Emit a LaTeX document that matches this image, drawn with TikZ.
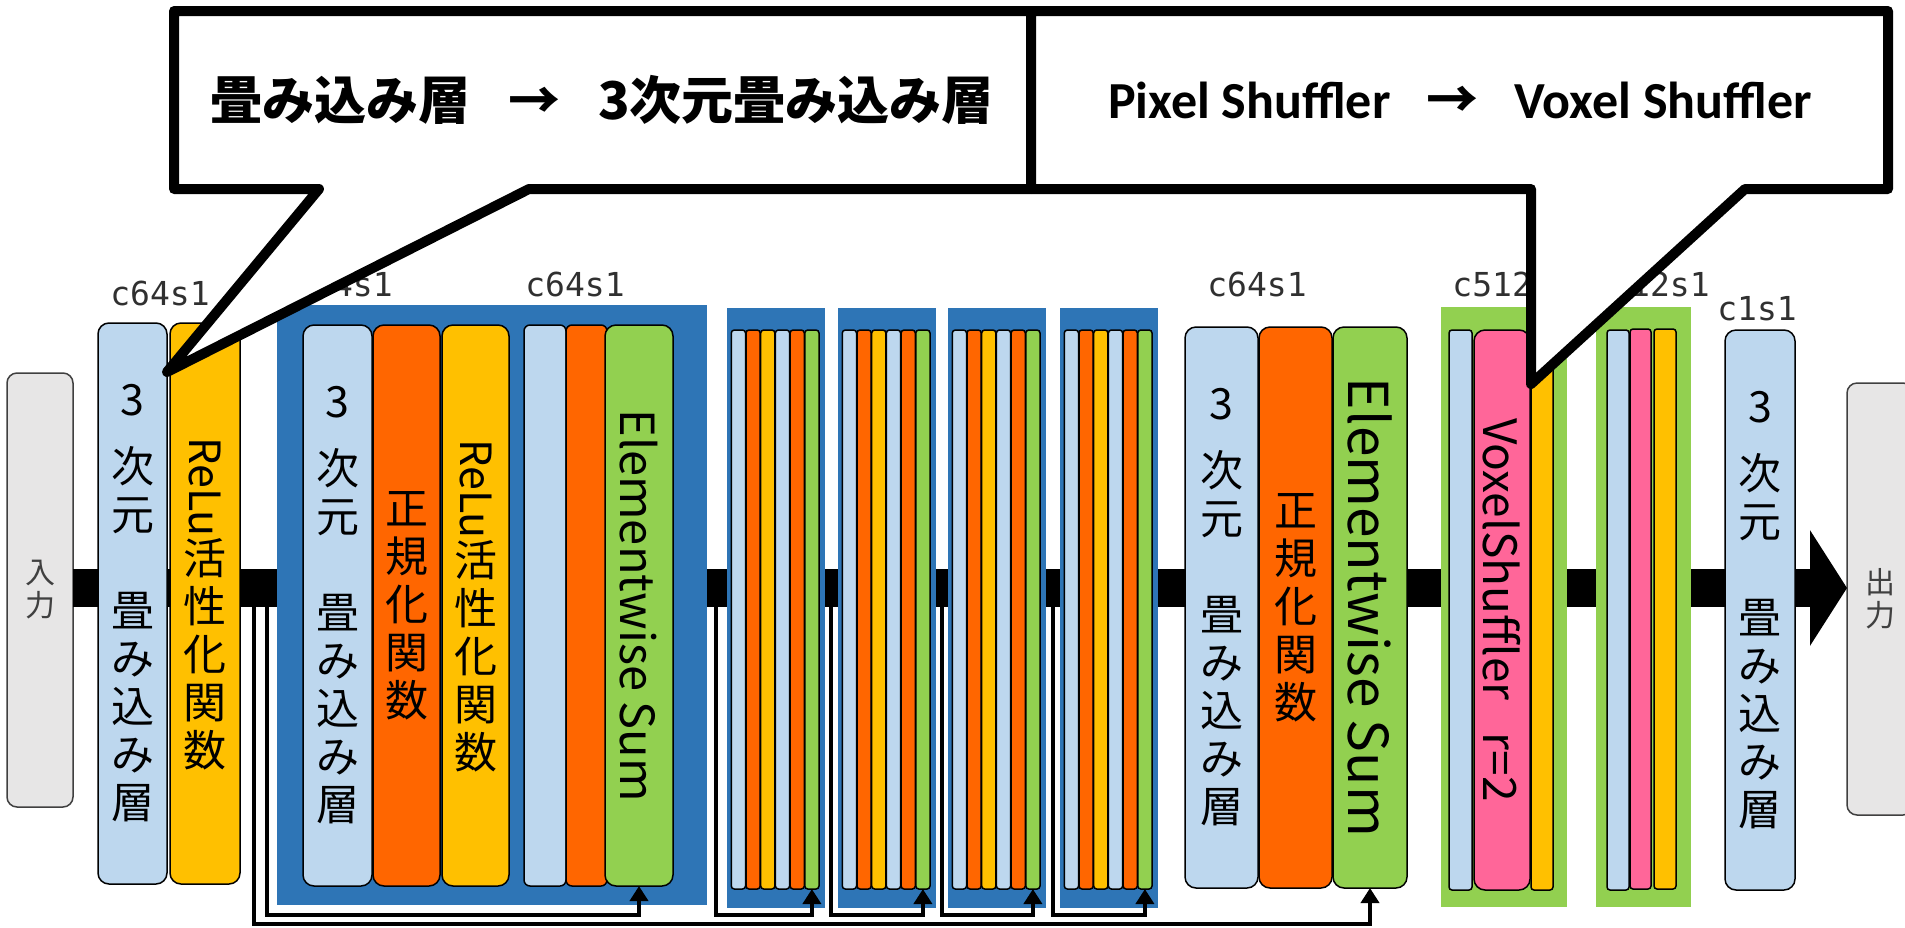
\documentclass[tikz,border=0pt]{standalone}
\usepackage{fontspec}
\usepackage{graphicx}
\usetikzlibrary{arrows.meta}
\newfontfamily\jp{Noto Sans CJK JP}
\newfontfamily\carl{Carlito}
\newfontfamily\lblf{DejaVu Sans Mono}
\definecolor{cLB}{HTML}{BDD7EE}
\definecolor{cOR}{HTML}{FF6600}
\definecolor{cYE}{HTML}{FFC000}
\definecolor{cGR}{HTML}{92D050}
\definecolor{cPK}{HTML}{FF6699}
\definecolor{cBL}{HTML}{2E75B6}
\definecolor{cGY}{HTML}{E7E6E6}
\definecolor{cIO}{HTML}{404040}
\definecolor{cTX}{HTML}{404040}
\definecolor{cLT}{HTML}{303030}
\newcommand\bx[7]{\node[#2, minimum width={(#5)-(#3)}, minimum height={(#6)-(#4)}] (#1) at ({((#3)+(#5))/2},{((#4)+(#6))/2}) {#7};}
\newcommand\convtxt{3\\[19pt]次\\元\\[48pt]畳\\み\\込\\み\\層}
\newcommand\relutxt{\rotatebox{-90}{ReLu}\\活\\性\\化\\関\\数}
\newcommand\normtxt{正\\規\\化\\関\\数}
\newcommand\estxt[1]{{\fontsize{#1}{#1}\selectfont\rotatebox{-90}{Elementwise Sum}}}
\tikzset{
  blk/.style={draw=black, line width=1.5pt, rounded corners=11pt, inner sep=0pt, outer sep=0pt, align=center, font={\jp\fontsize{43}{48}\selectfont}},
  thin/.style={blk, rounded corners=6pt},
  strip/.style={draw=black, line width=1.5pt, rounded corners=3pt, inner sep=0pt, outer sep=0pt},
  bg/.style={inner sep=0pt, outer sep=0pt},
  io/.style={draw=cIO, fill=cGY, line width=1.5pt, rounded corners=10pt, inner sep=0pt, outer sep=0pt, align=center, text=cTX, font={\jp\fontsize{30}{33}\selectfont}},
  lbl/.style={inner sep=0pt, text=cLT, font={\lblf\fontsize{33}{36}\selectfont}},
  skip/.style={draw=black, line width=4.5pt, -{Triangle[width=18pt,length=15pt]}},
  bar/.style={draw=black, line width=38pt, -{Triangle[width=114pt,length=37pt]}},
  callout/.style={draw=black, fill=white, line width=10pt, line join=round},
  ctext/.style={inner sep=0pt, font={\fontsize{52}{56}\selectfont}},
}
\begin{document}
\begin{tikzpicture}[x=1pt,y=-1pt]
\useasboundingbox (0,0) rectangle (1905,927);
\clip (0,0) rectangle (1905,927);
% input / output
\bx{in}{io}{7}{373}{73}{807}{入\\力}
\bx{out}{io}{1847}{383}{1913}{815}{出\\力}
% main bar
\coordinate (barY) at (0,588);
\draw[bar] (in.east |- barY) -- (out.west |- barY);
% backgrounds
\bx{B}{bg,fill=cBL}{277}{305}{707}{905}{}
\foreach \blk/\bxl in {A/727,B2/838,C/948,D/1060} {
  \bx{\blk}{bg,fill=cBL}{\bxl}{308}{\bxl+98}{908}{}
  \foreach \i/\col in {1/cLB,2/cOR,3/cYE,4/cLB,5/cOR,6/cGR} {
    \bx{\blk\i}{strip,fill=\col}{\bxl+4.3+(\i-1)*14.7}{330}{\bxl+4.3+(\i-1)*14.7+14.2}{889}{}
  }
}
\bx{G1}{bg,fill=cGR}{1441}{307}{1567}{907}{}
\bx{G2}{bg,fill=cGR}{1596}{307}{1691}{907}{}
% layer boxes
\bx{c1}{blk,fill=cLB}{98}{323}{167}{884}{\convtxt}
\bx{r1}{blk,fill=cYE}{170}{323}{240}{884}{\relutxt}
\bx{b1}{blk,fill=cLB}{303}{325}{372}{886}{\convtxt}
\bx{b2}{blk,fill=cOR}{373}{325}{440}{886}{\normtxt}
\bx{b3}{blk,fill=cYE}{442}{325}{509}{886}{\relutxt}
\bx{b4}{thin,fill=cLB}{524}{325}{566}{886}{}
\bx{b5}{thin,fill=cOR}{566}{325}{607}{886}{}
\bx{b6}{blk,fill=cGR}{605}{325}{673}{886}{\estxt{47}}
\bx{c2}{blk,fill=cLB}{1185}{327}{1258}{888}{\convtxt}
\bx{n2}{blk,fill=cOR}{1259}{327}{1332}{888}{\normtxt}
\bx{e2}{blk,fill=cGR}{1333}{327}{1407}{888}{\estxt{55}}
\bx{g1a}{strip,fill=cLB}{1449}{330}{1472}{890}{}
\bx{g1b}{blk,fill=cPK}{1474}{330}{1530}{890}{{\fontsize{46}{48}\selectfont\rotatebox{-90}{VoxelShuffler\hspace{0.7em}r=2}}}
\bx{g1c}{strip,fill=cYE}{1531}{330}{1553}{890}{}
\bx{g2a}{strip,fill=cLB}{1607}{330}{1629}{890}{}
\bx{g2b}{strip,fill=cPK}{1630}{329}{1651}{889}{}
\bx{g2c}{strip,fill=cYE}{1654}{329}{1676}{889}{}
\bx{c3}{blk,fill=cLB}{1725}{330}{1795}{890}{\convtxt}
% skip connections
\coordinate (yLow) at (0,924);
\coordinate (yMid) at (0,915);
\coordinate (sO) at (254,600);
\coordinate (sI) at (267,600);
\coordinate (sA) at (716,600);
\coordinate (sB) at (831,600);
\coordinate (sC) at (942,600);
\coordinate (sD) at (1053,600);
\draw[skip] (sO) -- (sO |- yLow) -| (e2.south);
\draw[skip] (sI) -- (sI |- yMid) -| (b6.south);
\draw[skip] (sA) -- (sA |- yMid) -| (A6.south);
\draw[skip] (sB) -- (sB |- yMid) -| (B26.south);
\draw[skip] (sC) -- (sC |- yMid) -| (C6.south);
\draw[skip] (sD) -- (sD |- yMid) -| (D6.south);
% labels
\node[lbl] (L1) at (160,293) {c64s1};
\node[lbl] (L2) at (343,284) {c64s1};
\node[lbl] (L3) at (575,284) {c64s1};
\node[lbl] (L4) at (1257,284) {c64s1};
\node[lbl] (L5) at (1512,284) {c512s1};
\node[lbl] (L6) at (1650,284) {c512s1};
\node[lbl] (L7) at (1757,309) {c1s1};
% callouts
\draw[callout] (174,11) -- (1031,11) -- (1031,189) -- (529,189) -- (167,372) -- (319,189) -- (174,189) -- cycle;
\draw[callout] (1031,11) -- (1888,11) -- (1888,189) -- (1745,189) -- (1531,384) -- (1531,189) -- (1031,189) -- cycle;
\node[ctext] (T1) at (602,100) {\jp\bfseries 畳み込み層\hspace{38pt}→\hspace{38pt}3次元畳み込み層};
\node[ctext] (T2) at (1460,100) {\carl\bfseries Pixel Shuffler\hspace{36pt}{\jp\bfseries →}\hspace{36pt}Voxel Shuffler};
\end{tikzpicture}
\end{document}
